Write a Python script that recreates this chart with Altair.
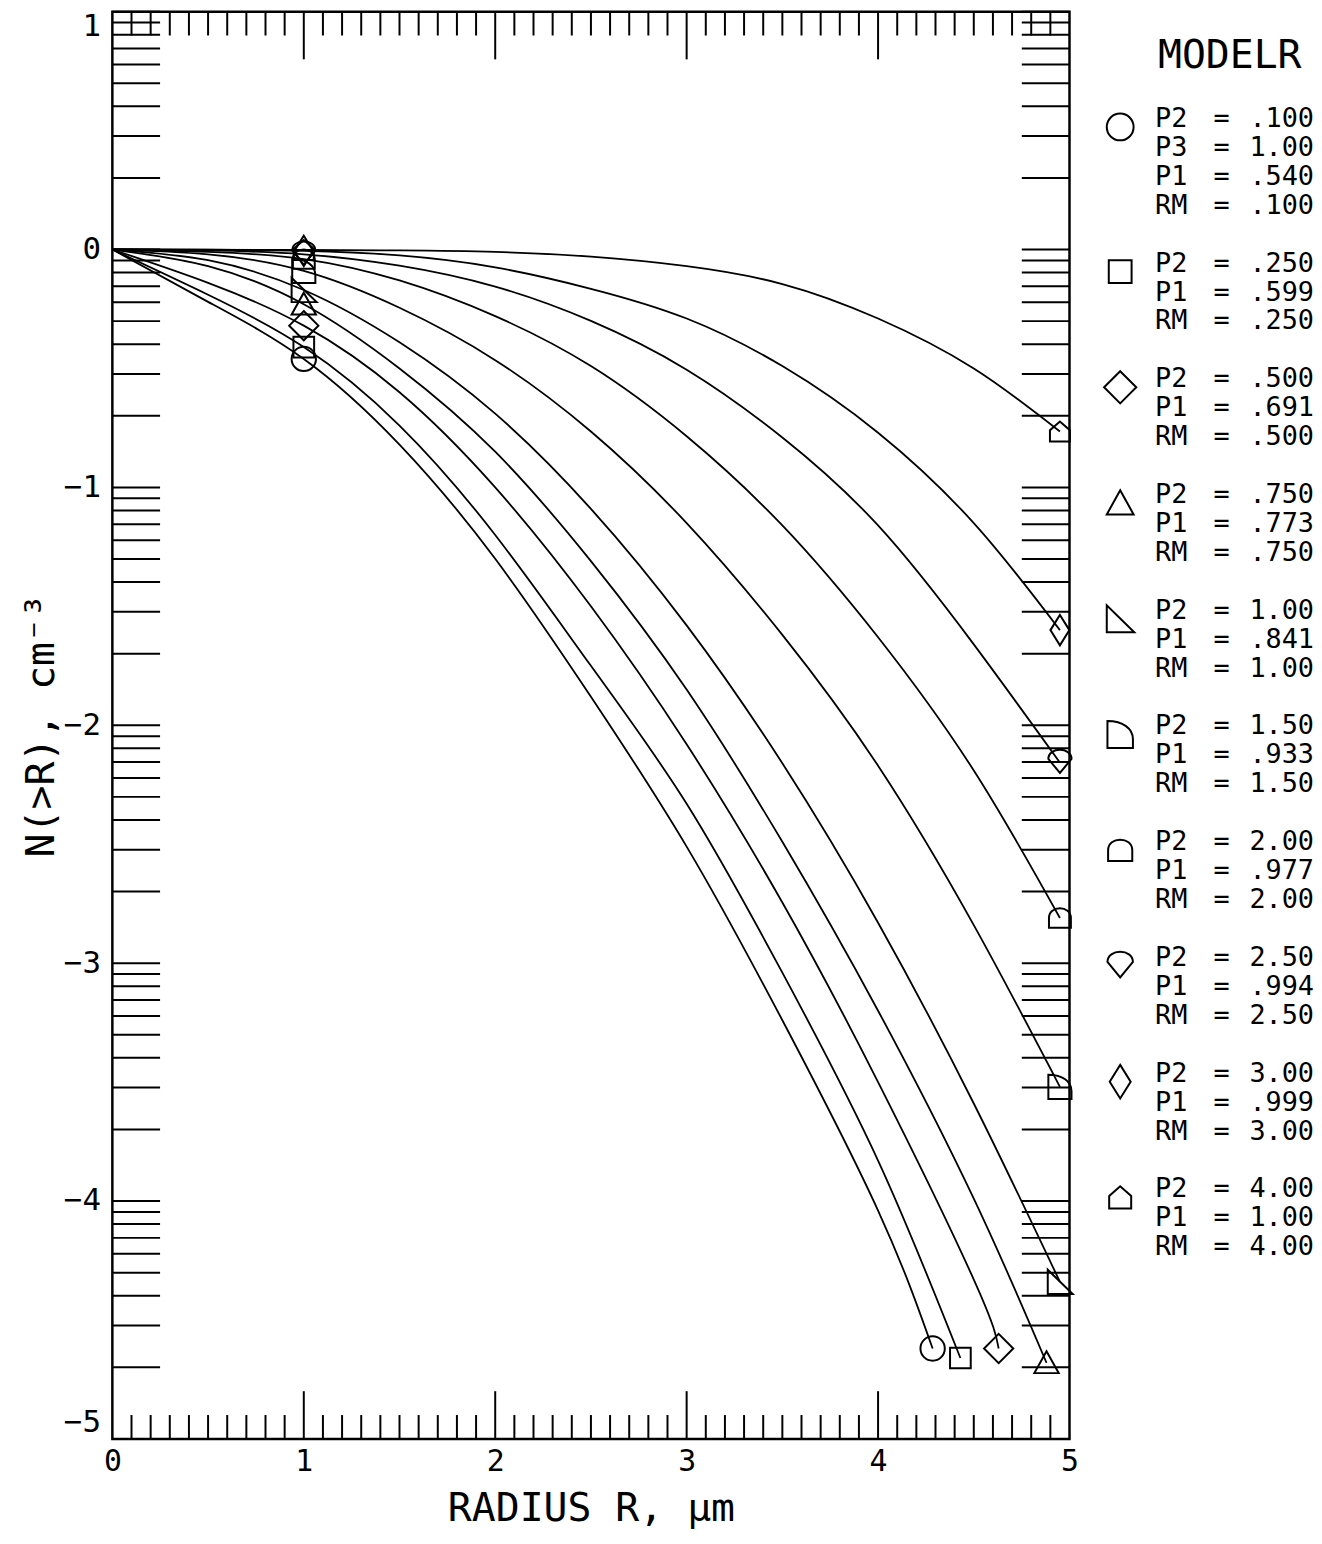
import math
import altair as alt
import pandas as pd

FONT = "DejaVu Sans Mono"

# ---------------- data ----------------
models = ["M1", "M2", "M3", "M4", "M5", "M6", "M7", "M8", "M9", "M10"]

# P2 = .100 (circle)
r_m1 = [0, 0.5, 1, 1.5, 2, 2.5, 3, 3.5, 4, 4.285]
n_m1 = [0, -0.22, -0.46, -0.82, -1.3, -1.88, -2.51, -3.24, -4.04, -4.62]
# P2 = .250 (square)
r_m2 = [0, 0.5, 1, 1.5, 2, 2.5, 3, 3.5, 4, 4.43]
n_m2 = [0, -0.19, -0.41, -0.74, -1.2, -1.75, -2.33, -3.04, -3.83, -4.66]
# P2 = .500 (diamond)
r_m3 = [0, 0.5, 1, 1.5, 2, 2.5, 3, 3.5, 4, 4.5, 4.63]
n_m3 = [0, -0.14, -0.32, -0.6, -1.0, -1.5, -2.08, -2.745, -3.5, -4.33, -4.62]
# P2 = .750 (triangle)
r_m4 = [0, 0.5, 1, 1.5, 2, 2.5, 3, 3.5, 4, 4.5, 4.88]
n_m4 = [0, -0.07, -0.23, -0.5, -0.85, -1.31, -1.85, -2.49, -3.2, -3.99, -4.68]
# P2 = 1.00 (right triangle)
r_m5 = [0, 0.5, 1, 1.5, 2, 2.5, 3, 3.5, 4, 4.5, 4.95]
n_m5 = [0, -0.045, -0.17, -0.39, -0.69, -1.09, -1.58, -2.16, -2.83, -3.59, -4.34]
# P2 = 1.50
r_m6 = [0, 0.5, 1, 1.5, 2, 2.5, 3, 3.5, 4, 4.5, 4.95]
n_m6 = [0, -0.02, -0.09, -0.245, -0.465, -0.765, -1.15, -1.62, -2.17, -2.84, -3.52]
# P2 = 2.00
r_m7 = [0, 0.5, 1, 1.5, 2, 2.5, 3, 3.5, 4, 4.5, 4.95]
n_m7 = [0, -0.01, -0.04, -0.13, -0.28, -0.49, -0.785, -1.16, -1.63, -2.19, -2.81]
# P2 = 2.50
r_m8 = [0, 0.5, 1, 1.5, 2, 2.5, 3, 3.5, 4, 4.5, 4.95]
n_m8 = [0, -0.004, -0.02, -0.068, -0.156, -0.3, -0.505, -0.79, -1.16, -1.66, -2.157]
# P2 = 3.00
r_m9 = [0, 0.5, 1, 1.5, 2, 2.5, 3, 3.5, 4, 4.5, 4.95]
n_m9 = [0, -0.001, -0.006, -0.025, -0.075, -0.165, -0.29, -0.49, -0.77, -1.15, -1.6]
# P2 = 4.00
r_m10 = [0, 1, 1.5, 2, 2.5, 3, 3.5, 4, 4.5, 4.95]
n_m10 = [0, -0.002, -0.004, -0.01, -0.03, -0.07, -0.145, -0.29, -0.5, -0.765]

curve_r = [r_m1, r_m2, r_m3, r_m4, r_m5, r_m6, r_m7, r_m8, r_m9, r_m10]
curve_n = [n_m1, n_m2, n_m3, n_m4, n_m5, n_m6, n_m7, n_m8, n_m9, n_m10]

# legend text
p2_text = [".100", ".250", ".500", ".750", "1.00", "1.50", "2.00", "2.50", "3.00", "4.00"]
p1_text = [".540", ".599", ".691", ".773", ".841", ".933", ".977", ".994", ".999", "1.00"]
rm_text = [".100", ".250", ".500", ".750", "1.00", "1.50", "2.00", "2.50", "3.00", "4.00"]
p3_first = "1.00"
legend_title = "MODELR"

# plotter-like symbols (SVG paths in a unit box)
symbol_paths = [
    "M 1 0 A 1 1 0 1 1 -1 0 A 1 1 0 1 1 1 0 Z",
    "M -0.85 -0.85 L 0.85 -0.85 L 0.85 0.85 L -0.85 0.85 Z",
    "M 0 -1.2 L 1.2 0 L 0 1.2 L -1.2 0 Z",
    "M 0 -0.95 L 1 0.85 L -1 0.85 Z",
    "M -1 -1 L -1 1 L 1.05 1 Z",
    "M -0.95 1 L 0.95 1 L 0.95 0.35 C 0.95 -0.45 0.2 -1 -0.95 -1 Z",
    "M -0.9 0.8 L -0.9 0 C -0.9 -1.05 0.9 -1.05 0.9 0 L 0.9 0.8 Z",
    "M -0.95 -0.3 C -0.95 -1.3 0.95 -1.3 0.95 -0.3 L 0 0.85 Z",
    "M 0 -1.25 L 0.78 0 L 0 1.25 L -0.78 0 Z",
    "M -0.82 0.82 L -0.82 -0.1 L 0 -0.82 L 0.82 -0.1 L 0.82 0.82 Z",
]

# axis tick positions
x_labels = [0, 1, 2, 3, 4, 5]
y_labels = [-5, -4, -3, -2, -1, 0, 1]
x_major_ticks = [1, 2, 3, 4]
x_minor_ticks = [i / 10 for i in range(1, 50) if i % 10 != 0]
log_steps = [1, 2, 3, 4, 5, 6, 7, 8, 9]
y_ticks = [d + math.log10(k) for d in range(-5, 1) for k in log_steps] + [1]

# ---------------- build tables ----------------
rows = []
for m, rr, nn in zip(models, curve_r, curve_n):
    for k, (r, n) in enumerate(zip(rr, nn)):
        rows.append({"model": m, "r": r, "n": n, "idx": k, "last": k == len(rr) - 1})
curves = pd.DataFrame(rows)
markers = curves[(curves["r"] == 1) | (curves["last"])]

leg_rows = []
sym_rows = []
row = 0
for i, m in enumerate(models):
    sym_rows.append({"row": row, "model": m})
    lines = [("P2", p2_text[i])]
    if i == 0:
        lines.append(("P3", p3_first))
    lines += [("P1", p1_text[i]), ("RM", rm_text[i])]
    for name, val in lines:
        leg_rows.append({"row": row, "name": name, "eq": "=", "val": val})
        row += 1
    row += 1
leg_df = pd.DataFrame(leg_rows)
sym_df = pd.DataFrame(sym_rows)
title_df = pd.DataFrame({"row": [-2.17], "t": [legend_title]})

# ---------------- chart ----------------
W, H = 963, 1436
xs = alt.Scale(domain=[0, 5], nice=False, zero=False)
ys = alt.Scale(domain=[-5, 1], nice=False, zero=False)
shape_scale = alt.Scale(domain=models, range=symbol_paths)

x_axis = alt.Axis(values=x_labels, format="d", ticks=False, domain=False,
                  grid=False, labelFlush=False, labelFont=FONT, labelFontSize=30,
                  labelColor="black", labelPadding=8, title="RADIUS R, μm",
                  titleFont=FONT, titleFontSize=40, titleFontWeight="normal",
                  titleColor="black", titlePadding=12)
y_axis = alt.Axis(values=y_labels, format="d", ticks=False, domain=False,
                  grid=False, labelFlush=True, labelFont=FONT, labelFontSize=31,
                  labelColor="black", labelPadding=12, title="N(>R),  cm⁻³",
                  titleFont=FONT, titleFontSize=40, titleFontWeight="normal",
                  titleColor="black", titlePadding=2)

lines = alt.Chart(curves).mark_line(color="black", strokeWidth=1.8, interpolate="natural").encode(
    x=alt.X("r:Q", scale=xs, axis=x_axis),
    y=alt.Y("n:Q", scale=ys, axis=y_axis),
    detail="model:N",
    order="idx:Q",
)
points = alt.Chart(markers).mark_point(filled=False, color="black", strokeWidth=2, size=600, opacity=1).encode(
    x=alt.X("r:Q", scale=xs),
    y=alt.Y("n:Q", scale=ys),
    shape=alt.Shape("model:N", scale=shape_scale, legend=None),
)

yt = pd.DataFrame({"y": y_ticks})
tick_style = dict(color="black", strokeWidth=2)
left_ticks = alt.Chart(yt).mark_rule(**tick_style).encode(
    y=alt.Y("y:Q", scale=ys), x=alt.value(0), x2=alt.value(48))
right_ticks = alt.Chart(yt).mark_rule(**tick_style).encode(
    y=alt.Y("y:Q", scale=ys), x=alt.value(W), x2=alt.value(W - 48))
xmin_df = pd.DataFrame({"x": x_minor_ticks})
xmaj_df = pd.DataFrame({"x": x_major_ticks})
top_minor = alt.Chart(xmin_df).mark_rule(**tick_style).encode(
    x=alt.X("x:Q", scale=xs), y=alt.value(0), y2=alt.value(24))
top_major = alt.Chart(xmaj_df).mark_rule(**tick_style).encode(
    x=alt.X("x:Q", scale=xs), y=alt.value(0), y2=alt.value(48))
bot_minor = alt.Chart(xmin_df).mark_rule(**tick_style).encode(
    x=alt.X("x:Q", scale=xs), y=alt.value(H), y2=alt.value(H - 24))
bot_major = alt.Chart(xmaj_df).mark_rule(**tick_style).encode(
    x=alt.X("x:Q", scale=xs), y=alt.value(H), y2=alt.value(H - 48))

main = alt.layer(lines, points, left_ticks, right_ticks, top_minor, top_major, bot_minor, bot_major).properties(
    width=W, height=H, view=alt.ViewBackground(stroke="black", strokeWidth=2.5))

# legend panel (own row scale, right of the frame)
leg_y = alt.Scale(domain=[0, 37], range=[108, 1185])
leg_title = alt.Chart(title_df).mark_text(font=FONT, fontSize=40, align="left", baseline="middle",
                                           color="black").encode(
    x=alt.value(72), y=alt.Y("row:Q", scale=leg_y, axis=None), text="t:N")
leg_name = alt.Chart(leg_df).mark_text(font=FONT, fontSize=27, align="left", baseline="middle",
                                        color="black").encode(
    x=alt.value(69), y=alt.Y("row:Q", scale=leg_y, axis=None), text="name:N")
leg_eq = alt.Chart(leg_df).mark_text(font=FONT, fontSize=27, align="center", baseline="middle",
                                      color="black").encode(
    x=alt.value(136), y=alt.Y("row:Q", scale=leg_y, axis=None), text="eq:N")
leg_val = alt.Chart(leg_df).mark_text(font=FONT, fontSize=27, align="right", baseline="middle",
                                       color="black").encode(
    x=alt.value(229), y=alt.Y("row:Q", scale=leg_y, axis=None), text="val:N")
leg_sym = alt.Chart(sym_df).mark_point(filled=False, color="black", strokeWidth=2, size=729,
                                        opacity=1, yOffset=8).encode(
    x=alt.value(34), y=alt.Y("row:Q", scale=leg_y, axis=None),
    shape=alt.Shape("model:N", scale=shape_scale, legend=None))
legend = alt.layer(leg_title, leg_name, leg_eq, leg_val, leg_sym).properties(
    width=229, height=H, view=alt.ViewBackground(strokeOpacity=0))

chart = alt.hconcat(main, legend, spacing=6).resolve_scale(
    y="independent", shape="independent"
).properties(
    padding={"left": 12, "top": -4, "right": 0, "bottom": -4},
).configure(background="white")

chart.save("out.html", embed_options={"renderer": "svg", "actions": False})
